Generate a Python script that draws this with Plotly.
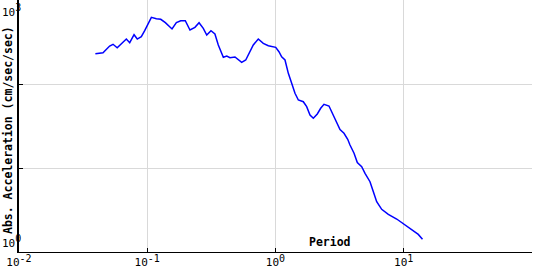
import plotly.graph_objects as go

period = [0.0394, 0.0452, 0.0509, 0.0541, 0.0583, 0.0638, 0.0687, 0.0730, 0.0789, 0.0836,
          0.0899, 0.0955, 0.1014, 0.1077, 0.1178, 0.1274, 0.1384, 0.156, 0.1687, 0.1824,
          0.198, 0.2153, 0.2354, 0.2535, 0.2735, 0.291, 0.314, 0.337, 0.358, 0.381,
          0.392, 0.417, 0.4416, 0.483, 0.513, 0.545, 0.586, 0.621, 0.671, 0.734,
          0.803, 0.879, 0.944, 1.004, 1.064, 1.117, 1.186, 1.259, 1.337, 1.419,
          1.507, 1.648, 1.750, 1.858, 1.972, 2.118, 2.250, 2.388, 2.612, 2.825,
          3.034, 3.184, 3.420, 3.656, 3.809, 4.096, 4.345, 4.700, 4.990, 5.456,
          5.794, 6.152, 6.730, 7.58, 8.81, 10.23, 11.86, 12.98, 14.0]
accel = [229.6, 236, 283, 297, 270, 305, 343, 310, 386, 343,
         366, 431, 518, 622, 599, 589, 537, 452, 537, 567,
         567, 439, 473, 537, 460, 383, 431, 394, 291, 228,
         208, 215, 206, 210, 197, 181, 193, 232, 291, 343,
         305, 286, 281, 273, 242, 211, 193, 134, 102, 77.5,
         64.5, 61.5, 53.7, 42.8, 39.1, 44.0, 51.4, 57.3, 54.7, 42.8,
         34.0, 28.7, 25.9, 22.0, 18.8, 15.0, 11.6, 10.36, 8.65, 6.87,
         5.22, 3.97, 3.22, 2.81, 2.47, 2.10, 1.78, 1.62, 1.42]

x_tickvals = [0.01, 0.1, 1, 10, 100]
x_exponents = ["-2", "-1", "0", "1", "2"]
y_tickvals = [1, 10, 100, 1000]
y_label_exponents = ["3", "0"]

FONT = "DejaVu Sans Mono"


def power_label(exp):
    return "10<sup><span style='font-size:10px'>" + exp + "</span></sup>"


x_ticktext = [power_label(e) for e in x_exponents]

fig = go.Figure()
fig.add_trace(go.Scatter(x=period, y=accel, mode="lines",
                         line=dict(color="#0000ff", width=1.5), showlegend=False))

fig.update_layout(
    width=540, height=270,
    margin=dict(l=19, r=8, t=0, b=18),
    paper_bgcolor="white", plot_bgcolor="white",
    font=dict(family=FONT, size=11, color="black"),
    xaxis=dict(type="log", range=[-2, 2], tickvals=x_tickvals, ticktext=x_ticktext,
               showgrid=True, gridcolor="#d9d9d9", gridwidth=1,
               showline=True, linecolor="black", linewidth=1,
               ticks="inside", ticklen=4, tickcolor="black",
               tickfont=dict(family=FONT, size=11), zeroline=False),
    yaxis=dict(type="log", range=[0, 3], tickvals=y_tickvals, showticklabels=False,
               showgrid=True, gridcolor="#d9d9d9", gridwidth=1,
               showline=True, linecolor="black", linewidth=1.5,
               ticks="inside", ticklen=4, tickcolor="black", zeroline=False),
    annotations=[
        dict(text=power_label(y_label_exponents[0]), xref="paper", yref="paper", x=-19/513, y=1.0,
             xanchor="left", yanchor="top", showarrow=False,
             font=dict(family=FONT, size=11)),
        dict(text=power_label(y_label_exponents[1]), xref="paper", yref="paper", x=-19/513, y=0.0,
             xanchor="left", yanchor="bottom", showarrow=False,
             font=dict(family=FONT, size=11)),
        dict(text="<b>Abs. Acceleration (cm/sec/sec)</b>", xref="paper", yref="paper",
             x=(8 - 19) / 513, y=(252 - 130) / 252, textangle=-90,
             xanchor="center", yanchor="middle", showarrow=False,
             font=dict(family=FONT, size=11.5)),
        dict(text="<b>Period</b>", xref="paper", yref="paper",
             x=(330 - 19) / 513, y=(252 - 242) / 252,
             xanchor="center", yanchor="middle", showarrow=False,
             font=dict(family=FONT, size=11.5)),
    ],
)

fig.write_html("out.html")
